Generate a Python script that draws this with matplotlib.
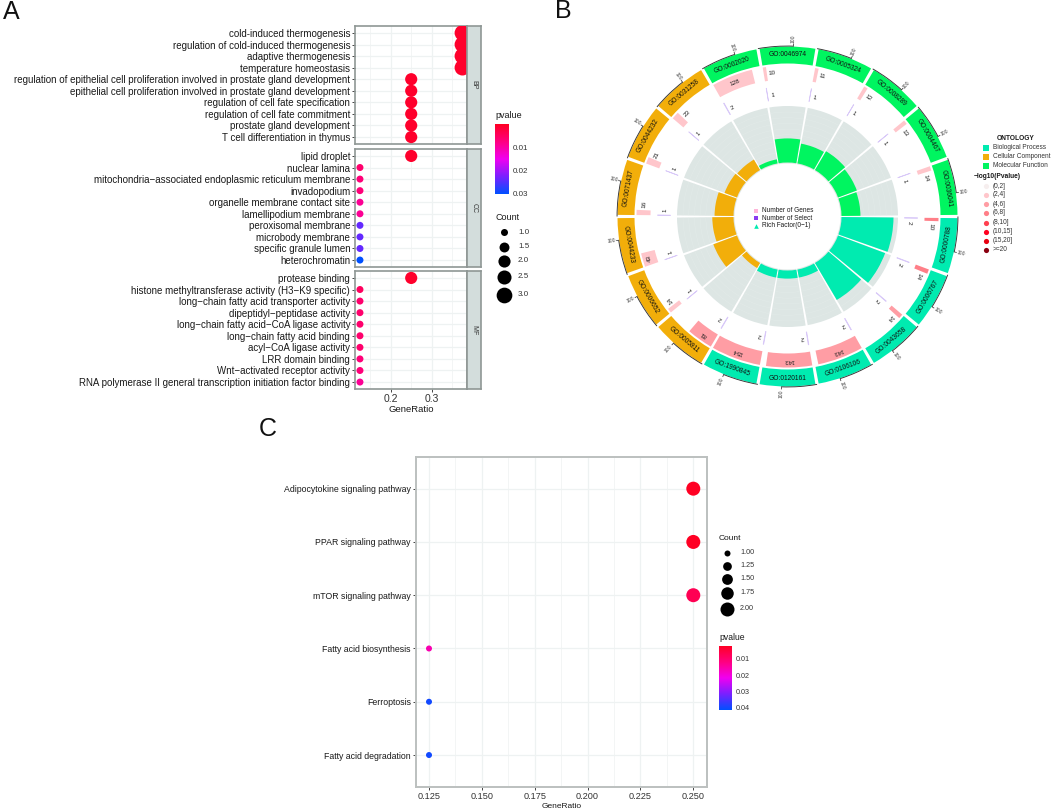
import numpy as np
import matplotlib
matplotlib.use('Agg')
import matplotlib.pyplot as plt
from matplotlib.cm import ScalarMappable
from matplotlib.colors import LinearSegmentedColormap, Normalize

plt.rcParams['font.family'] = ['Liberation Sans', 'DejaVu Sans']

W, H = 1052, 810

# panel A
bp_terms = ['cold-induced thermogenesis', 'regulation of cold-induced thermogenesis', 'adaptive thermogenesis',
            'temperature homeostasis', 'regulation of epithelial cell proliferation involved in prostate gland development',
            'epithelial cell proliferation involved in prostate gland development', 'regulation of cell fate specification',
            'regulation of cell fate commitment', 'prostate gland development', 'T cell differentiation in thymus']
bp_ratio = [0.375, 0.375, 0.375, 0.375, 0.25, 0.25, 0.25, 0.25, 0.25, 0.25]
bp_count = [3, 3, 3, 3, 2, 2, 2, 2, 2, 2]
bp_p = [0.001] * 10

cc_terms = ['lipid droplet', 'nuclear lamina', 'mitochondria\u2212associated endoplasmic reticulum membrane', 'invadopodium',
            'organelle membrane contact site', 'lamellipodium membrane', 'peroxisomal membrane', 'microbody membrane',
            'specific granule lumen', 'heterochromatin']
cc_ratio = [0.25, 0.125, 0.125, 0.125, 0.125, 0.125, 0.125, 0.125, 0.125, 0.125]
cc_count = [2, 1, 1, 1, 1, 1, 1, 1, 1, 1]
cc_p = [0.001, 0.006, 0.007, 0.007, 0.009, 0.009, 0.024, 0.024, 0.024, 0.03]

mf_terms = ['protease binding', 'histone methyltransferase activity (H3\u2212K9 specific)', 'long\u2212chain fatty acid transporter activity',
            'dipeptidyl\u2212peptidase activity', 'long\u2212chain fatty acid\u2212CoA ligase activity', 'long\u2212chain fatty acid binding',
            'acyl\u2212CoA ligase activity', 'LRR domain binding', 'Wnt\u2212activated receptor activity',
            'RNA polymerase II general transcription initiation factor binding']
mf_ratio = [0.25, 0.125, 0.125, 0.125, 0.125, 0.125, 0.125, 0.125, 0.125, 0.125]
mf_count = [2, 1, 1, 1, 1, 1, 1, 1, 1, 1]
mf_p = [0.001, 0.005, 0.006, 0.006, 0.006, 0.006, 0.006, 0.007, 0.007, 0.009]

# panel B, clockwise from the top
go_ids = ['GO:0046974', 'GO:0005324', 'GO:0008289', 'GO:0004467', 'GO:0036041', 'GO:0000788', 'GO:0006767', 'GO:0043658',
          'GO:0106106', 'GO:0120161', 'GO:1990845', 'GO:0005811', 'GO:0006652', 'GO:0044233', 'GO:0071437', 'GO:0044232',
          'GO:0031258', 'GO:0002020']
go_ontology = ['MF', 'MF', 'MF', 'MF', 'MF', 'BP', 'BP', 'BP', 'BP', 'BP', 'BP', 'CC', 'CC', 'CC', 'CC', 'CC', 'CC', 'MF']
go_genes = [10, 11, 12, 13, 14, 10, 14, 14, 143, 143, 154, 81, 14, 43, 16, 21, 23, 128]
go_select = [1, 1, 1, 1, 1, 2, 2, 2, 2, 2, 2, 2, 1, 1, 1, 1, 1, 2]
go_rich = [0.44, 0.37, 0.40, 0.37, 0.35, 0.93, 0.90, 0.77, 0.16, 0.16, 0.16, 0.12, 0.46, 0.39, 0.35, 0.25, 0.23, 0.09]
go_logp = [3, 3, 3, 3, 3, 7, 7, 5, 5, 5, 5, 5, 3, 3, 3, 3, 3, 3]

onto_names = ['Biological Process', 'Cellular Component', 'Molecular Function']
logp_bins = ['(0,2]', '(2,4]', '(4,6]', '(6,8]', '(8,10]', '(10,15]', '(15,20]', '>=20']
logp_edges = [0, 2, 4, 6, 8, 10, 15, 20]

# panel C
kegg_terms = ['Adipocytokine signaling pathway', 'PPAR signaling pathway', 'mTOR signaling pathway',
              'Fatty acid biosynthesis', 'Ferroptosis', 'Fatty acid degradation']
kegg_ratio = [0.25, 0.25, 0.25, 0.125, 0.125, 0.125]
kegg_count = [2, 2, 2, 1, 1, 1]
kegg_p = [0.002, 0.002, 0.007, 0.016, 0.04, 0.04]

pcmap = LinearSegmentedColormap.from_list('pv', ['#ff0022', '#ff0080', '#f000f0', '#7a20ff', '#0050ff'])
onto_colors = {'BP': '#00ebb0', 'CC': '#f2ae0a', 'MF': '#00f560'}
logp_colors = ['#f6eeee', '#ffc6cb', '#ff9da4', '#ff7f88', '#ff4050', '#ff0020', '#e80010', '#8a0010']
frame = '#8f9795'
grid = '#eef2f2'
strip = '#d3dddc'
txt = '#1a1a1a'


def px_axes(x0, y0, x1, y1, **kw):
    return fig.add_axes([x0 / W, 1 - y1 / H, (x1 - x0) / W, (y1 - y0) / H], **kw)


def dot_size(count, c0, c1, d0, d1):
    # area scale, d0 and d1 are diameters in pixels
    d2 = d0 ** 2 + (np.asarray(count, dtype=float) - c0) / (c1 - c0) * (d1 ** 2 - d0 ** 2)
    return d2 * 0.72 ** 2


def logp_color(v):
    return logp_colors[np.searchsorted(logp_edges, v) - 1]


fig = plt.figure(figsize=(W / 100, H / 100), dpi=100)


def facet(y0, y1, terms, ratio, count, pv, label, last=False):
    ax = px_axes(355, y0, 467, y1)
    ys = np.arange(len(terms))
    ax.scatter(ratio, ys, s=dot_size(count, 1, 3, 7, 15.7), c=pv, cmap=pcmap, norm=Normalize(0.0001, 0.0301),
               linewidths=0, zorder=3)
    ax.set_xlim(0.1129, 0.3861)
    ax.set_ylim(9.6, -0.6)
    ax.set_yticks(ys, terms, fontsize=7.03, color=txt)
    ax.set_xticks([0.2, 0.3])
    ax.set_xticks([0.15, 0.25, 0.35], minor=True)
    ax.tick_params(axis='y', length=2, width=0.7, color='#444444', pad=1.5)
    ax.tick_params(axis='x', which='minor', length=0)
    ax.grid(True, which='major', color=grid, lw=0.9)
    ax.grid(True, which='minor', axis='x', color=grid, lw=0.5)
    ax.set_axisbelow(True)
    for s in ax.spines.values():
        s.set_color(frame)
        s.set_linewidth(1.2)
    if last:
        ax.tick_params(axis='x', length=2, width=0.7, color='#444444', labelsize=7.5, labelcolor='#333333', pad=1.5)
        ax.set_xlabel('GeneRatio', fontsize=6.8, color=txt, labelpad=1)
    else:
        ax.tick_params(axis='x', length=0, labelbottom=False)
    sax = px_axes(467, y0, 481, y1)
    sax.set_facecolor(strip)
    sax.set_xticks([])
    sax.set_yticks([])
    for s in sax.spines.values():
        s.set_color(frame)
        s.set_linewidth(1.2)
    sax.text(0.5, 0.5, label, rotation=-90, ha='center', va='center', fontsize=5, color='#333333',
             transform=sax.transAxes)


facet(26, 144, bp_terms, bp_ratio, bp_count, bp_p, 'BP')
facet(149, 267, cc_terms, cc_ratio, cc_count, cc_p, 'CC')
facet(271, 389, mf_terms, mf_ratio, mf_count, mf_p, 'MF', last=True)

# panel C
axc = px_axes(415.7, 456.7, 707, 787)
ys = np.arange(len(kegg_terms))
axc.scatter(kegg_ratio, ys, s=dot_size(kegg_count, 1, 2, 6, 14), c=kegg_p, cmap=pcmap,
            norm=Normalize(0.0018, 0.0415), linewidths=0, zorder=3)
axc.set_xlim(0.125 - 13.3 / 2114.4, 0.25 + 13.7 / 2114.4)
axc.set_ylim(5.6, -0.6)
axc.set_yticks(ys, kegg_terms, fontsize=6.3, color=txt)
axc.set_xticks([0.125, 0.15, 0.175, 0.2, 0.225, 0.25], ['0.125', '0.150', '0.175', '0.200', '0.225', '0.250'])
axc.set_xticks([0.1375, 0.1625, 0.1875, 0.2125, 0.2375], minor=True)
axc.tick_params(axis='both', length=2, width=0.7, color='#444444', pad=1.5)
axc.tick_params(axis='x', labelsize=6.6, labelcolor='#333333')
axc.tick_params(axis='x', which='minor', length=0)
axc.grid(True, which='major', color=grid, lw=0.9)
axc.grid(True, which='minor', axis='x', color=grid, lw=0.5)
axc.set_axisbelow(True)
axc.set_xlabel('GeneRatio', fontsize=6, color=txt, labelpad=1.5)
for s in axc.spines.values():
    s.set_color('#bcc0bf')
    s.set_linewidth(1.4)

# panel B, polar axes scaled so that one radial unit is one pixel
RMAX = 185
cx, cy = 787.5, 216.5
axb = px_axes(cx - RMAX, cy - RMAX, cx + RMAX, cy + RMAX, projection='polar')
axb.set_ylim(0, RMAX)
axb.set_axis_off()
n_go = len(go_ids)
step = 360 / n_go
starts = 100 - step * np.arange(n_go)   # clockwise edge of each sector
mids = starts - step / 2
gene_scale = 0.1235
gap = 1.1

for i in range(n_go):
    sc = onto_colors[go_ontology[i]]
    th = mids[i]
    # outer ring with id
    axb.bar(np.radians(th), 17, width=np.radians(step - gap), bottom=153, color=sc, lw=0)
    up = 0 <= (th % 360) < 180
    axb.text(np.radians(th), 161.5, go_ids[i], rotation=(th - 90) if up else (th + 90), rotation_mode='anchor',
             ha='center', va='center', fontsize=4.8, color='#111111')
    # scale on the outside of the ring
    t0 = starts[i] - 12
    axb.bar(np.radians(starts[i] - 6), 0.9, width=np.radians(12), bottom=170, color='#333333', lw=0)
    axb.bar(np.radians(t0), 3, width=np.radians(0.25), bottom=170, color='#333333', lw=0)
    axb.text(np.radians(t0), 177.5, '100', rotation=t0 if np.cos(np.radians(t0)) >= 0 else t0 + 180,
             rotation_mode='anchor', ha='center', va='center', fontsize=3.6, color='#444444')
    # genes
    wg = go_genes[i] * gene_scale
    axb.bar(np.radians(starts[i] - gap / 2 - wg / 2), 14, width=np.radians(wg), bottom=137,
            color=logp_color(go_logp[i]), lw=0)
    lab_th = starts[i] - gap / 2 - wg / 2 if wg > 4 else starts[i] - gap / 2 - wg - 2.2
    axb.text(np.radians(lab_th), 144, str(go_genes[i]), rotation=lab_th - 90, rotation_mode='anchor',
             ha='center', va='center', fontsize=4.6, color='#222222')
    # selected genes
    ws = go_select[i] * gene_scale
    axb.bar(np.radians(starts[i] - gap / 2 - ws / 2), 13, width=np.radians(ws), bottom=117,
            color='#d8c8f8', edgecolor='#d8c8f8', lw=0.5)
    lab_th = starts[i] - gap / 2 - ws - 2.3
    axb.text(np.radians(lab_th), 122, str(go_select[i]), rotation=lab_th - 90, rotation_mode='anchor',
             ha='center', va='center', fontsize=4.4, color='#222222')
    # rich factor track
    axb.bar(np.radians(th), 57.5, width=np.radians(step - gap), bottom=53, color='#dde6e4', lw=0)
    for f in np.arange(0.1, 1, 0.1):
        axb.bar(np.radians(th), 0.35, width=np.radians(step - gap), bottom=53 + 57 * f, color='#e5ecea', lw=0)
    axb.bar(np.radians(th), 57 * go_rich[i] - 1, width=np.radians(step - gap), bottom=54, color=sc, lw=0)

# legends and panel letters in pixel coordinates
ov = fig.add_axes([0, 0, 1, 1])
ov.set_xlim(0, W)
ov.set_ylim(H, 0)
ov.axis('off')
ov.patch.set_alpha(0)

ov.text(3, 12, 'A', fontsize=18, va='center', color='#111111')
ov.text(555, 11, 'B', fontsize=18, va='center', color='#111111')
ov.text(259, 429, 'C', fontsize=18, va='center', color='#111111')


def ptext(x, y, s, size=6, **kw):
    kw.setdefault('color', txt)
    ov.text(x, y, s, fontsize=size, va='center', **kw)


# centre legend of B
for y, s, col, mk in zip([210.5, 218, 225.5], ['Number of Genes', 'Number of Select', 'Rich Factor(0\u22121)'],
                         ['#ffb4d8', '#8a3cf0', '#00ebb0'], ['s', 's', '^']):
    ov.scatter([756], [y], s=11, c=col, marker=mk, linewidths=0)
    ptext(761.5, y, s, size=4.7)

ptext(997, 138, 'ONTOLOGY', size=4.8, fontweight='bold')
for y, s, k in zip([147.5, 156.5, 165.5], onto_names, ['BP', 'CC', 'MF']):
    ov.scatter([986], [y], s=18, c=onto_colors[k], marker='s', linewidths=0)
    ptext(993, y, s, size=4.7, color='#333333')
ptext(974, 176, '\u2212log10(Pvalue)', size=4.8, fontweight='bold')
for y, s, col in zip([186, 195, 204, 213, 222.5, 231.5, 240.5, 249.5], logp_bins, logp_colors):
    ov.scatter([986], [y], s=14, c=col, marker='o', linewidths=0)
    ptext(993, y, s, size=4.7, color='#333333')

# colour and size legends of A
ptext(495, 116, 'pvalue', size=6.5)
cb = px_axes(495, 124, 509, 194)
fig.colorbar(ScalarMappable(Normalize(0.0001, 0.0301), pcmap), cax=cb, ticks=[0.01, 0.02, 0.03], format='%.2f')
cb.yaxis.set_inverted(True)
cb.tick_params(length=0, labelsize=5.8, labelcolor='#333333', pad=3)
cb.spines['outline'].set_visible(False)

ptext(495, 217, 'Count', size=6.5)
a_counts = [1.0, 1.5, 2.0, 2.5, 3.0]
for y, c in zip([232, 247, 261, 277, 295], a_counts):
    ov.scatter([504], [y], s=dot_size(c, 1, 3, 7, 15.7), c='black', linewidths=0)
    ptext(518, y, '%.1f' % c, size=5.8, color='#333333')

# colour and size legends of C
ptext(719, 638, 'pvalue', size=6.2)
cb2 = px_axes(719, 645.7, 732, 710)
fig.colorbar(ScalarMappable(Normalize(0.0018, 0.0415), pcmap), cax=cb2, ticks=[0.01, 0.02, 0.03, 0.04], format='%.2f')
cb2.yaxis.set_inverted(True)
cb2.tick_params(length=0, labelsize=5.2, labelcolor='#333333', pad=3)
cb2.spines['outline'].set_visible(False)

ptext(719, 538, 'Count', size=6)
c_counts = [1.0, 1.25, 1.5, 1.75, 2.0]
for y, c in zip([552.7, 565.7, 579, 593, 609], c_counts):
    ov.scatter([727], [y], s=dot_size(c, 1, 2, 6, 14), c='black', linewidths=0)
    ptext(740, y, '%.2f' % c, size=5.2, color='#333333')

plt.savefig('out.png', dpi=100)
